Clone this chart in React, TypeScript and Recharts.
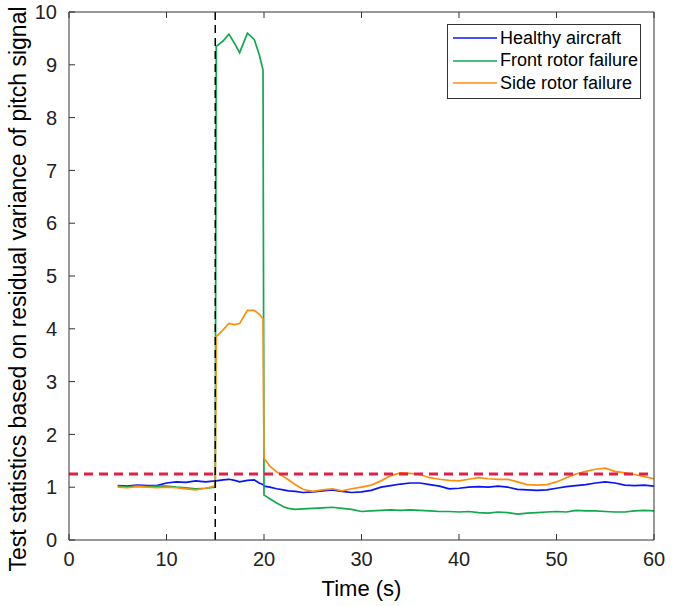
import { Line, LineChart, ReferenceLine, XAxis, YAxis } from 'recharts';

const time = [
  5, 6, 7, 8, 9, 10, 11, 12, 13, 14, 15, 15.1, 15.8, 16.4, 17, 17.5, 18.3, 19,
  19.5, 19.9, 20.0, 20.6, 21.3, 22, 22.5, 23.2, 24, 25, 26, 27, 28, 29, 30, 31,
  32, 33, 34, 35, 36, 37, 38, 39, 40, 41, 42, 43, 44, 45, 46, 47, 48, 49, 50, 51,
  52, 53, 54, 55, 56, 57, 58, 59, 60,
];

const healthy = [
  1.03, 1.02, 1.04, 1.03, 1.03, 1.08, 1.1, 1.09, 1.12, 1.1, 1.12, 1.12, 1.14,
  1.15, 1.13, 1.1, 1.13, 1.14, 1.08, 1.05, 1.02, 1.0, 0.97, 0.95, 0.93, 0.92,
  0.9, 0.91, 0.93, 0.95, 0.92, 0.9, 0.91, 0.94, 1.0, 1.03, 1.06, 1.08, 1.08,
  1.05, 1.02, 0.97, 0.98, 1.0, 1.01, 1.0, 1.02, 1.0, 0.96, 0.95, 0.94, 0.95,
  0.98, 1.01, 1.03, 1.05, 1.08, 1.1, 1.08, 1.04, 1.03, 1.04, 1.02,
];

const frontRotor = [
  1.02, 1.0, 1.03, 1.01, 1.02, 1.02, 1.0, 0.99, 0.97, 0.98, 1.0, 9.35, 9.45,
  9.58, 9.4, 9.23, 9.6, 9.48, 9.2, 8.9, 0.85, 0.78, 0.7, 0.63, 0.6, 0.58, 0.59,
  0.6, 0.61, 0.62, 0.6, 0.58, 0.54, 0.55, 0.56, 0.57, 0.56, 0.57, 0.56, 0.55,
  0.54, 0.54, 0.53, 0.54, 0.52, 0.51, 0.53, 0.52, 0.49, 0.51, 0.52, 0.53, 0.54,
  0.53, 0.56, 0.55, 0.55, 0.54, 0.53, 0.53, 0.55, 0.56, 0.55,
];

const sideRotor = [
  1.0, 0.99, 1.01, 1.0, 0.99, 1.0, 0.99, 0.97, 0.95, 0.98, 1.02, 3.85, 3.98,
  4.1, 4.08, 4.1, 4.35, 4.35, 4.28, 4.19, 1.55, 1.4, 1.29, 1.2, 1.14, 1.05,
  0.96, 0.92, 0.95, 0.97, 0.93, 0.97, 1.0, 1.04, 1.12, 1.22, 1.27, 1.26, 1.24,
  1.18, 1.15, 1.13, 1.12, 1.15, 1.18, 1.16, 1.15, 1.15, 1.1, 1.05, 1.04, 1.05,
  1.1, 1.18, 1.25, 1.3, 1.34, 1.36, 1.3, 1.27, 1.24, 1.2, 1.16,
];

const threshold = 1.25;
const faultTime = 15;
const xTicks = [0, 10, 20, 30, 40, 50, 60];
const yTicks = [0, 1, 2, 3, 4, 5, 6, 7, 8, 9, 10];

const seriesInfo = [
  { key: 'healthy', name: 'Healthy aircraft', color: '#0a14f5' },
  { key: 'front', name: 'Front rotor failure', color: '#11a84e' },
  { key: 'side', name: 'Side rotor failure', color: '#ff8f0a' },
];

const chartData = time.map((t, i) => ({
  t,
  healthy: healthy[i],
  front: frontRotor[i],
  side: sideRotor[i],
}));

const font = '"Liberation Sans", Arial, sans-serif';
const axisColor = '#333333';
const tickLen = 6;

// matlab style ticks: they point into the plot
const BottomTick = (props: any) => {
  const { x, y, payload } = props;
  const axisY = y - 12;
  return (
    <g>
      <line x1={x} y1={axisY} x2={x} y2={axisY - tickLen} stroke={axisColor} />
      <text
        x={x}
        y={y}
        dy="0.71em"
        textAnchor="middle"
        fontFamily={font}
        fontSize={20}
        fill="#222"
      >
        {payload.value}
      </text>
    </g>
  );
};

const TopTick = (props: any) => {
  const { x, y } = props;
  return <line x1={x} y1={y} x2={x} y2={y + tickLen} stroke={axisColor} />;
};

const LeftTick = (props: any) => {
  const { x, y, payload } = props;
  const axisX = x + 12;
  return (
    <g>
      <line x1={axisX} y1={y} x2={axisX + tickLen} y2={y} stroke={axisColor} />
      <text
        x={x}
        y={y}
        dy="0.36em"
        textAnchor="end"
        fontFamily={font}
        fontSize={20}
        fill="#222"
      >
        {payload.value}
      </text>
    </g>
  );
};

const RightTick = (props: any) => {
  const { x, y } = props;
  return <line x1={x} y1={y} x2={x - tickLen} y2={y} stroke={axisColor} />;
};

const YLabel = (props: any) => {
  const { viewBox } = props;
  const cy = viewBox.y + viewBox.height / 2 + 13;
  return (
    <text
      x={20}
      y={cy}
      transform={`rotate(-90, 20, ${cy})`}
      textAnchor="middle"
      dominantBaseline="middle"
      fontFamily={font}
      fontSize={23}
      fill="#000"
    >
      Test statistics based on residual variance of pitch signal
    </text>
  );
};

const LegendBox = () => (
  <div
    style={{
      position: 'absolute',
      left: 447,
      top: 24,
      width: 192,
      height: 71,
      border: '1px solid #333',
      background: '#fff',
      fontFamily: font,
      fontSize: 18,
      color: '#000',
      paddingTop: 2,
      boxSizing: 'content-box',
    }}
  >
    {seriesInfo.map((s) => (
      <div
        key={s.key}
        style={{ display: 'flex', alignItems: 'center', height: 22.5 }}
      >
        <svg width={44} height={4} style={{ marginLeft: 5, marginRight: 3 }}>
          <line x1={0} y1={2} x2={44} y2={2} stroke={s.color} strokeWidth={1.6} />
        </svg>
        <span>{s.name}</span>
      </div>
    ))}
  </div>
);

const App = () => {
  return (
    <div style={{ position: 'absolute', left: 0, top: 0, background: '#fff' }}>
      <LineChart
        width={694}
        height={606}
        data={chartData}
        margin={{ top: 11, right: 39, left: 24, bottom: 26 }}
      >
        <XAxis
          xAxisId="main"
          dataKey="t"
          type="number"
          domain={[0, 60]}
          ticks={xTicks}
          allowDataOverflow
          height={40}
          tickSize={0}
          tickMargin={12}
          tickLine={false}
          tick={<BottomTick />}
          stroke={axisColor}
          label={{
            value: 'Time (s)',
            position: 'insideBottom',
            offset: -16,
            style: { fontSize: 22, fill: '#000', fontFamily: font },
          }}
        />
        <XAxis
          xAxisId="top"
          orientation="top"
          dataKey="t"
          type="number"
          domain={[0, 60]}
          ticks={xTicks}
          height={1}
          tickSize={0}
          tickMargin={0}
          tickLine={false}
          tick={<TopTick />}
          stroke={axisColor}
        />
        <YAxis
          yAxisId="main"
          domain={[0, 10]}
          ticks={yTicks}
          width={45}
          tickSize={0}
          tickMargin={12}
          tickLine={false}
          tick={<LeftTick />}
          stroke={axisColor}
          label={<YLabel />}
        />
        <YAxis
          yAxisId="right"
          orientation="right"
          domain={[0, 10]}
          ticks={yTicks}
          width={1}
          tickSize={0}
          tickMargin={0}
          tickLine={false}
          tick={<RightTick />}
          stroke={axisColor}
        />
        {seriesInfo.map((s) => (
          <Line
            key={s.key}
            xAxisId="main"
            yAxisId="main"
            type="linear"
            dataKey={s.key}
            name={s.name}
            stroke={s.color}
            strokeWidth={1.7}
            dot={false}
            activeDot={false}
            isAnimationActive={false}
          />
        ))}
        <ReferenceLine
          xAxisId="main"
          yAxisId="main"
          y={threshold}
          stroke="#e21f4b"
          strokeWidth={3}
          strokeDasharray="9 6"
        />
        <ReferenceLine
          xAxisId="main"
          yAxisId="main"
          x={faultTime}
          stroke="#000"
          strokeWidth={1.5}
          strokeDasharray="8 5"
        />
      </LineChart>
      <LegendBox />
    </div>
  );
};

export default App;
